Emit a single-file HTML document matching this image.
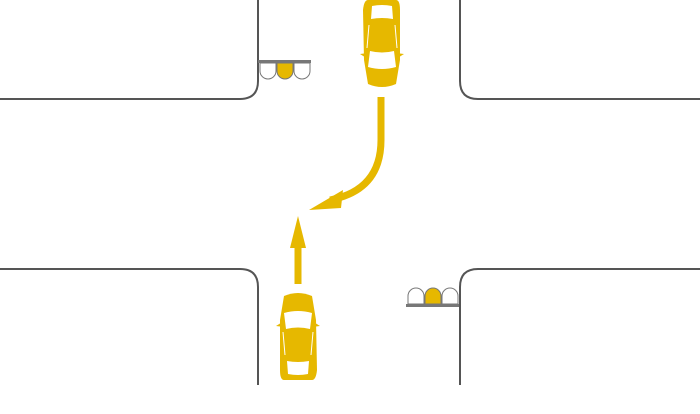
<!DOCTYPE html>
<html><head><style>body{margin:0;background:#fff}svg{display:block}</style></head><body>
<svg width="700" height="414" viewBox="0 0 700 414" xmlns="http://www.w3.org/2000/svg">
<g fill="none" stroke="#555" stroke-width="2">
<path d="M258 0 V81 Q258 99 240 99 H0"/>
<path d="M460 0 V81 Q460 99 478 99 H700"/>
<path d="M0 269 H240 Q258 269 258 287 V385"/>
<path d="M700 269 H478 Q460 269 460 287 V385"/>
</g>
<!-- traffic light top-left -->
<g stroke="#777" stroke-width="1">
<path d="M260 63 V71 A8 8 0 0 0 276 71 V63Z" fill="#fff"/>
<path d="M277 63 V71 A8 8 0 0 0 293 71 V63Z" fill="#e6b800"/>
<path d="M294 63 V71 A8 8 0 0 0 310 71 V63Z" fill="#fff"/>
</g>
<rect x="258" y="60" width="53" height="3" fill="#777"/>
<!-- traffic light bottom-right -->
<g stroke="#777" stroke-width="1">
<path d="M408 304 V296 A8 8 0 0 1 424 296 V304Z" fill="#fff"/>
<path d="M425 304 V296 A8 8 0 0 1 441 296 V304Z" fill="#e6b800"/>
<path d="M442 304 V296 A8 8 0 0 1 458 296 V304Z" fill="#fff"/>
</g>
<rect x="406" y="304" width="53" height="3" fill="#777"/>
<!-- arrows -->
<path d="M381 97 V140 Q381 190 330 200" fill="none" stroke="#e6b800" stroke-width="7"/>
<polygon points="309,210 343,190 341,208" fill="#e6b800"/>
<rect x="294.5" y="246" width="7" height="38" fill="#e6b800"/>
<polygon points="298,216 290,248 306,248" fill="#e6b800"/>
<!-- bottom car (facing up) -->
<g id="car">
<path d="M284 296 Q298 290 312 296 L316 320 L317 370 Q316 380 312 380 H284 Q280 380 280 370 L280 320Z" fill="#e6b800"/>
<path d="M276 326 L284 321 L284 327Z M320 326 L312 321 L312 327Z" fill="#e6b800"/>
<path d="M284 313 Q298 309 312 313 L310 329 Q298 326 286 329Z" fill="#fff"/>
<path d="M287 361 Q298 363 309 361 L308 374 Q298 376 288 374Z" fill="#fff"/>
<path d="M283 332 L285 355 M313 332 L311 355" stroke="#fff" stroke-width="1"/>
</g>
<use href="#car" transform="translate(680 380) rotate(180)"/>
</svg>
</body></html>
